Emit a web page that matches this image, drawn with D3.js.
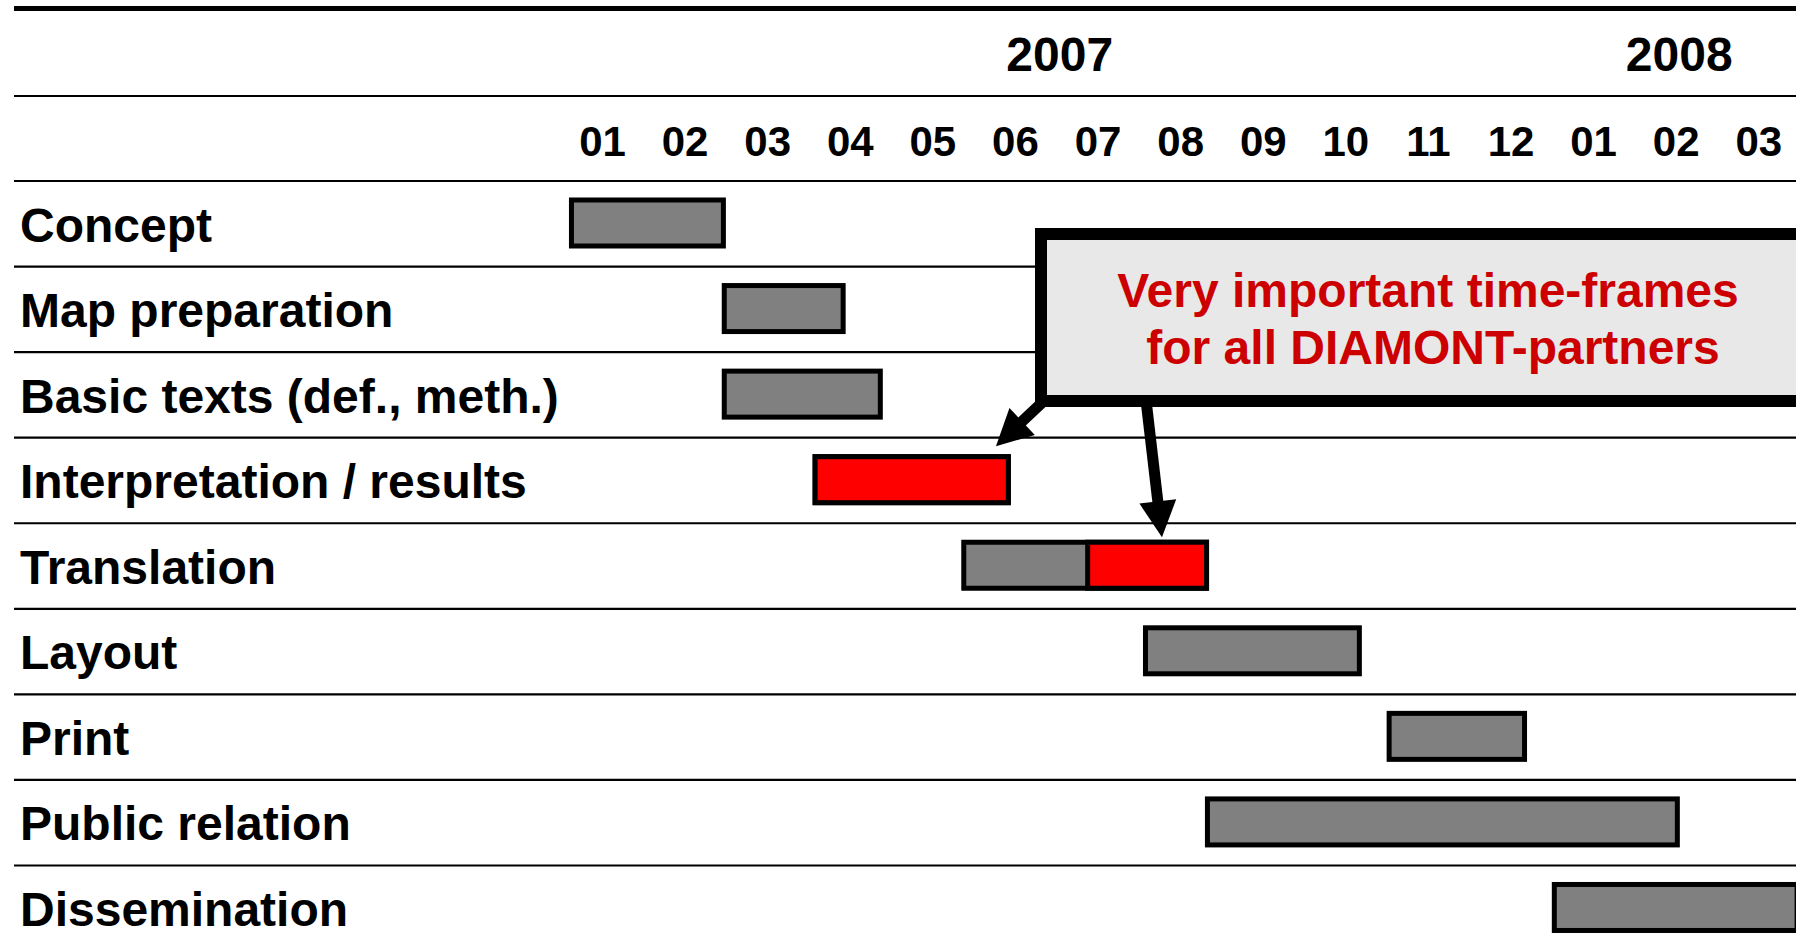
<!DOCTYPE html>
<html>
<head>
<meta charset="utf-8">
<script src="https://cdn.jsdelivr.net/npm/d3@7"></script>
<style>
  body { margin: 0; background: #fff; overflow: hidden; }
  svg { display: block; font-family: "Liberation Sans", Arial, sans-serif; font-weight: bold; }
</style>
</head>
<body>
<svg id="chart" width="1796" height="948"></svg>
<script>
// task rows, top to bottom
const tasks = ["Concept", "Map preparation", "Basic texts (def., meth.)", "Interpretation / results",
  "Translation", "Layout", "Print", "Public relation", "Dissemination"];
// months since start of Jan 2007
const startMonth = [0.1, 1.95, 1.95, 3.05, 4.85, 7.05, 10.0, 7.8, 12.0];
const endMonth   = [2.0, 3.45, 3.9, 5.45, 7.85, 9.7, 11.7, 13.55, 15.0];
// highlighted (critical) parts
const criticalTask  = ["Interpretation / results", "Translation"];
const criticalStart = [3.05, 6.35];
const criticalEnd   = [5.45, 7.85];

const monthLabels = ["01","02","03","04","05","06","07","08","09","10","11","12","01","02","03"];
const years = ["2007", "2008"];
const yearFrom = [0, 12];
const yearTo = [12, 15];

const calloutLines = ["Very important time-frames", "for all DIAMONT-partners"];
// arrows point at these tasks / month positions
const arrowTask = ["Interpretation / results", "Translation"];
const arrowMonth = [5.27, 7.28];

const W = 1796, H = 948;
const left = 14, rowTop = 181, rowStep = 85.56;

const svg = d3.select("#chart");

const x = d3.scaleLinear().domain([0, 15]).range([560.7, 1799.6]);
const y = d3.scaleBand().domain(tasks).range([rowTop, rowTop + rowStep * tasks.length]).paddingInner(0).paddingOuter(0);

// header rules
svg.append("line").attr("x1", left).attr("x2", W).attr("y1", 8.5).attr("y2", 8.5)
  .attr("stroke", "#000").attr("stroke-width", 5);
svg.append("line").attr("x1", left).attr("x2", W).attr("y1", 96).attr("y2", 96)
  .attr("stroke", "#000").attr("stroke-width", 2);

// row rules
svg.append("g").selectAll("line")
  .data(tasks)
  .join("line")
  .attr("x1", left).attr("x2", W)
  .attr("y1", d => y(d)).attr("y2", d => y(d))
  .attr("stroke", "#000").attr("stroke-width", 2.2);

// years
svg.append("g").selectAll("text")
  .data(years)
  .join("text")
  .attr("x", (d, i) => (x(yearFrom[i] + 0.5) + x(yearTo[i] - 0.5)) / 2 + 3.5)
  .attr("y", 71)
  .attr("text-anchor", "middle")
  .style("font-size", "48px")
  .text(d => d);

// months axis
const monthAxis = d3.axisTop(x)
  .tickValues(monthLabels.map((m, i) => i + 0.5))
  .tickFormat((d, i) => monthLabels[i])
  .tickSize(0)
  .tickPadding(0);

const ax = svg.append("g").attr("transform", "translate(0,156)").call(monthAxis);
ax.select(".domain").remove();
ax.selectAll("text")
  .attr("y", 0).attr("dy", null)
  .attr("fill", "#000")
  .style("font-size", "42px")
  .style("font-family", "'Liberation Sans', Arial, sans-serif")
  .style("font-weight", "bold");

// task labels
svg.append("g").selectAll("text")
  .data(tasks)
  .join("text")
  .attr("x", 20)
  .attr("y", d => y(d) + 60.5)
  .style("font-size", "48px")
  .text(d => d);

// bars
svg.append("g").selectAll("rect")
  .data(tasks)
  .join("rect")
  .attr("x", (d, i) => x(startMonth[i]) + 2.5)
  .attr("width", (d, i) => x(endMonth[i]) - x(startMonth[i]) - 5)
  .attr("y", d => y(d) + 19)
  .attr("height", 46)
  .attr("fill", "#808080")
  .attr("stroke", "#000")
  .attr("stroke-width", 5);

svg.append("g").selectAll("rect")
  .data(criticalTask)
  .join("rect")
  .attr("x", (d, i) => x(criticalStart[i]) + 2.5)
  .attr("width", (d, i) => x(criticalEnd[i]) - x(criticalStart[i]) - 5)
  .attr("y", d => y(d) + 19)
  .attr("height", 46)
  .attr("fill", "#ff0000")
  .attr("stroke", "#000")
  .attr("stroke-width", 5);

// callout box
const box = { x: 1041, y: 234, w: 820, h: 167 };
svg.append("rect")
  .attr("x", box.x).attr("y", box.y)
  .attr("width", box.w).attr("height", box.h)
  .attr("fill", "#e8e8e8")
  .attr("stroke", "#000")
  .attr("stroke-width", 12);

svg.append("g").selectAll("text")
  .data(calloutLines)
  .join("text")
  .attr("x", (d, i) => i === 0 ? 1428 : 1433)
  .attr("y", (d, i) => 307 + i * 57)
  .attr("text-anchor", "middle")
  .attr("fill", "#cc0000")
  .style("font-size", "48px")
  .text(d => d);

// arrows
const arrowFrom = [[1047, 398], [1146, 400]];
const arrowTip = [
  [x(arrowMonth[0]), y(arrowTask[0]) + 8.5],
  [x(arrowMonth[1]), y(arrowTask[1]) + 14]
];

function drawArrow(from, tip) {
  const dx = tip[0] - from[0], dy = tip[1] - from[1];
  const len = Math.hypot(dx, dy);
  const ux = dx / len, uy = dy / len;
  const headLen = 36, half = 18.5;
  const bx = tip[0] - ux * headLen, by = tip[1] - uy * headLen;
  svg.append("line")
    .attr("x1", from[0]).attr("y1", from[1])
    .attr("x2", bx + ux * 2).attr("y2", by + uy * 2)
    .attr("stroke", "#000").attr("stroke-width", 11);
  svg.append("path")
    .attr("d", d3.line()([
      tip,
      [bx - uy * half, by + ux * half],
      [bx + uy * half, by - ux * half]
    ]) + "Z")
    .attr("fill", "#000");
}
arrowFrom.forEach((f, i) => drawArrow(f, arrowTip[i]));
</script>
</body>
</html>
